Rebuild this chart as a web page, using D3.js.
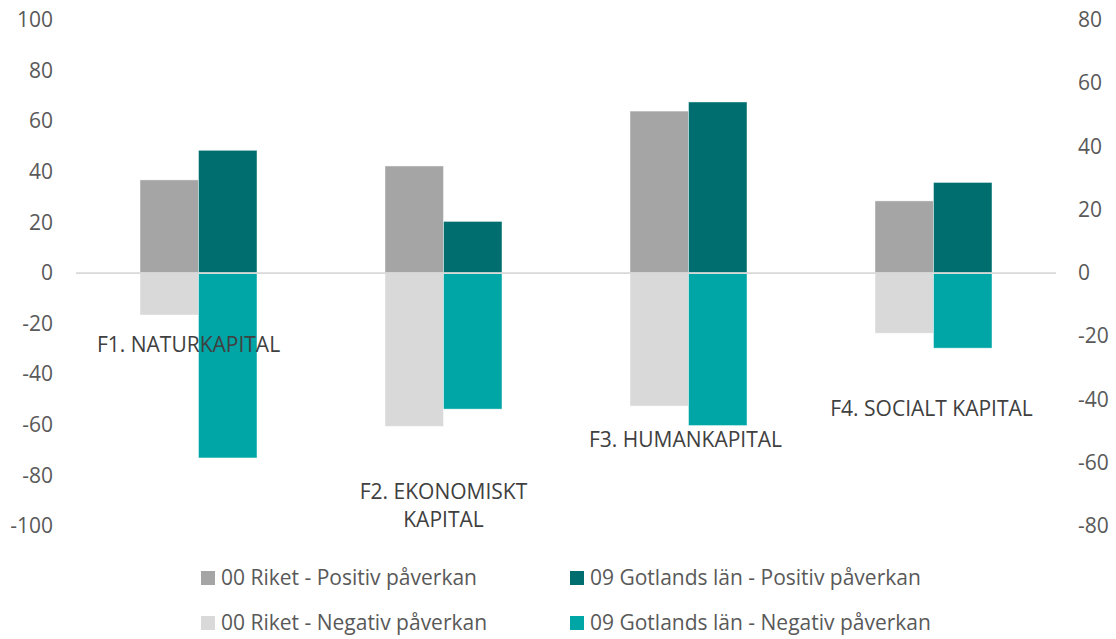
<!DOCTYPE html>
<html>
<head>
<meta charset="utf-8">
<script src="https://cdn.jsdelivr.net/npm/d3@7"></script>
<style>
  body { margin: 0; background: #fff; }
  text { font-family: "Open Sans", sans-serif; }
</style>
</head>
<body>
<div id="chart"></div>
<script>
// Kategorier och serier
const categories = ["F1", "F2", "F3", "F4"];
const categoryLabels = [["F1. NATURKAPITAL"], ["F2. EKONOMISKT", "KAPITAL"], ["F3. HUMANKAPITAL"], ["F4. SOCIALT KAPITAL"]];
const riketPositiv = [36.8, 42.3, 64.0, 28.5];
const gotlandPositiv = [48.5, 20.4, 67.6, 35.8];
const riketNegativ = [-16.6, -60.6, -52.6, -23.8];
const gotlandNegativ = [-73.1, -53.8, -60.3, -29.7];
const leftTicks = [100, 80, 60, 40, 20, 0, -20, -40, -60, -80, -100];
const rightTicks = [80, 60, 40, 20, 0, -20, -40, -60, -80];
// Etiketternas placering (i värden på vänster axel) – som i originalet
const labelY = [-28.5, -86.5, -66, -53.5];
const labelDx = [-10, 0, -3, -2];

const seriesNames = ["00 Riket - Positiv påverkan", "09 Gotlands län - Positiv påverkan",
                     "00 Riket - Negativ påverkan", "09 Gotlands län - Negativ påverkan"];
const seriesColors = ["#A5A5A5", "#006E6E", "#D9D9D9", "#00A5A5"];

const width = 1116, height = 639;
const svg = d3.select("#chart").append("svg")
    .attr("width", width).attr("height", height);

const x = d3.scaleBand().domain(categories).range([76, 1056]);
const groupWidth = 117;
const xSub = d3.scaleBand().domain(["riket", "gotland"]).range([0, groupWidth]);
const y = d3.scaleLinear().domain([-100, 100]).range([526, 20]);
const y2 = d3.scaleLinear().domain([-80, 80]).range([526, 20]);

// Staplar
const series = [
  { key: "riket", values: riketPositiv, color: seriesColors[0] },
  { key: "gotland", values: gotlandPositiv, color: seriesColors[1] },
  { key: "riket", values: riketNegativ, color: seriesColors[2] },
  { key: "gotland", values: gotlandNegativ, color: seriesColors[3] }
];
series.forEach(s => {
  svg.append("g").selectAll("rect")
    .data(s.values)
    .enter().append("rect")
    .attr("x", (d, i) => x(categories[i]) + (x.bandwidth() - groupWidth) / 2 + xSub(s.key))
    .attr("y", d => y(Math.max(0, d)))
    .attr("width", xSub.bandwidth())
    .attr("height", d => Math.abs(y(d) - y(0)))
    .attr("fill", s.color)
    .attr("stroke", "#fff")
    .attr("stroke-opacity", 0.6)
    .attr("stroke-width", 0.75);
});

// Nolllinje
svg.append("line")
  .attr("x1", 76).attr("x2", 1056)
  .attr("y1", y(0)).attr("y2", y(0))
  .attr("stroke", "#D9D9D9").attr("stroke-width", 1.75);

// Axlar (vanligt bindestreck som minustecken)
const fmt = d => String(d);
const leftAxis = svg.append("g")
  .attr("transform", "translate(76,0)")
  .call(d3.axisLeft(y).tickValues(leftTicks).tickFormat(fmt).tickSize(0).tickPadding(23));
const rightAxis = svg.append("g")
  .attr("transform", "translate(1056,0)")
  .call(d3.axisRight(y2).tickValues(rightTicks).tickFormat(fmt).tickSize(0).tickPadding(22));
[leftAxis, rightAxis].forEach(a => {
  a.select(".domain").remove();
  a.selectAll("text")
    .style("font-family", "'Open Sans', sans-serif")
    .style("font-size", "21px")
    .attr("fill", "#595959");
});

// Kategorietiketter
categoryLabels.forEach((lines, i) => {
  const t = svg.append("text")
    .attr("text-anchor", "middle")
    .attr("fill", "#404040")
    .style("font-size", "21px");
  lines.forEach((line, j) => {
    t.append("tspan")
      .attr("x", x(categories[i]) + x.bandwidth() / 2 + labelDx[i])
      .attr("y", y(labelY[i]) + j * 28)
      .attr("dy", "0.35em")
      .text(line);
  });
});

// Förklaring
const legend = svg.append("g");
const legendItem = legend.selectAll("g")
  .data(seriesNames)
  .enter().append("g")
  .attr("transform", (d, i) => `translate(${i % 2 === 0 ? 201 : 570}, ${i < 2 ? 578 : 623})`);
legendItem.append("rect")
  .attr("x", 0).attr("y", -7)
  .attr("width", 14).attr("height", 14)
  .attr("fill", (d, i) => seriesColors[i]);
legendItem.append("text")
  .attr("x", 20).attr("dy", "0.35em")
  .attr("fill", "#595959")
  .style("font-size", "21px")
  .text(d => d);
</script>
</body>
</html>
